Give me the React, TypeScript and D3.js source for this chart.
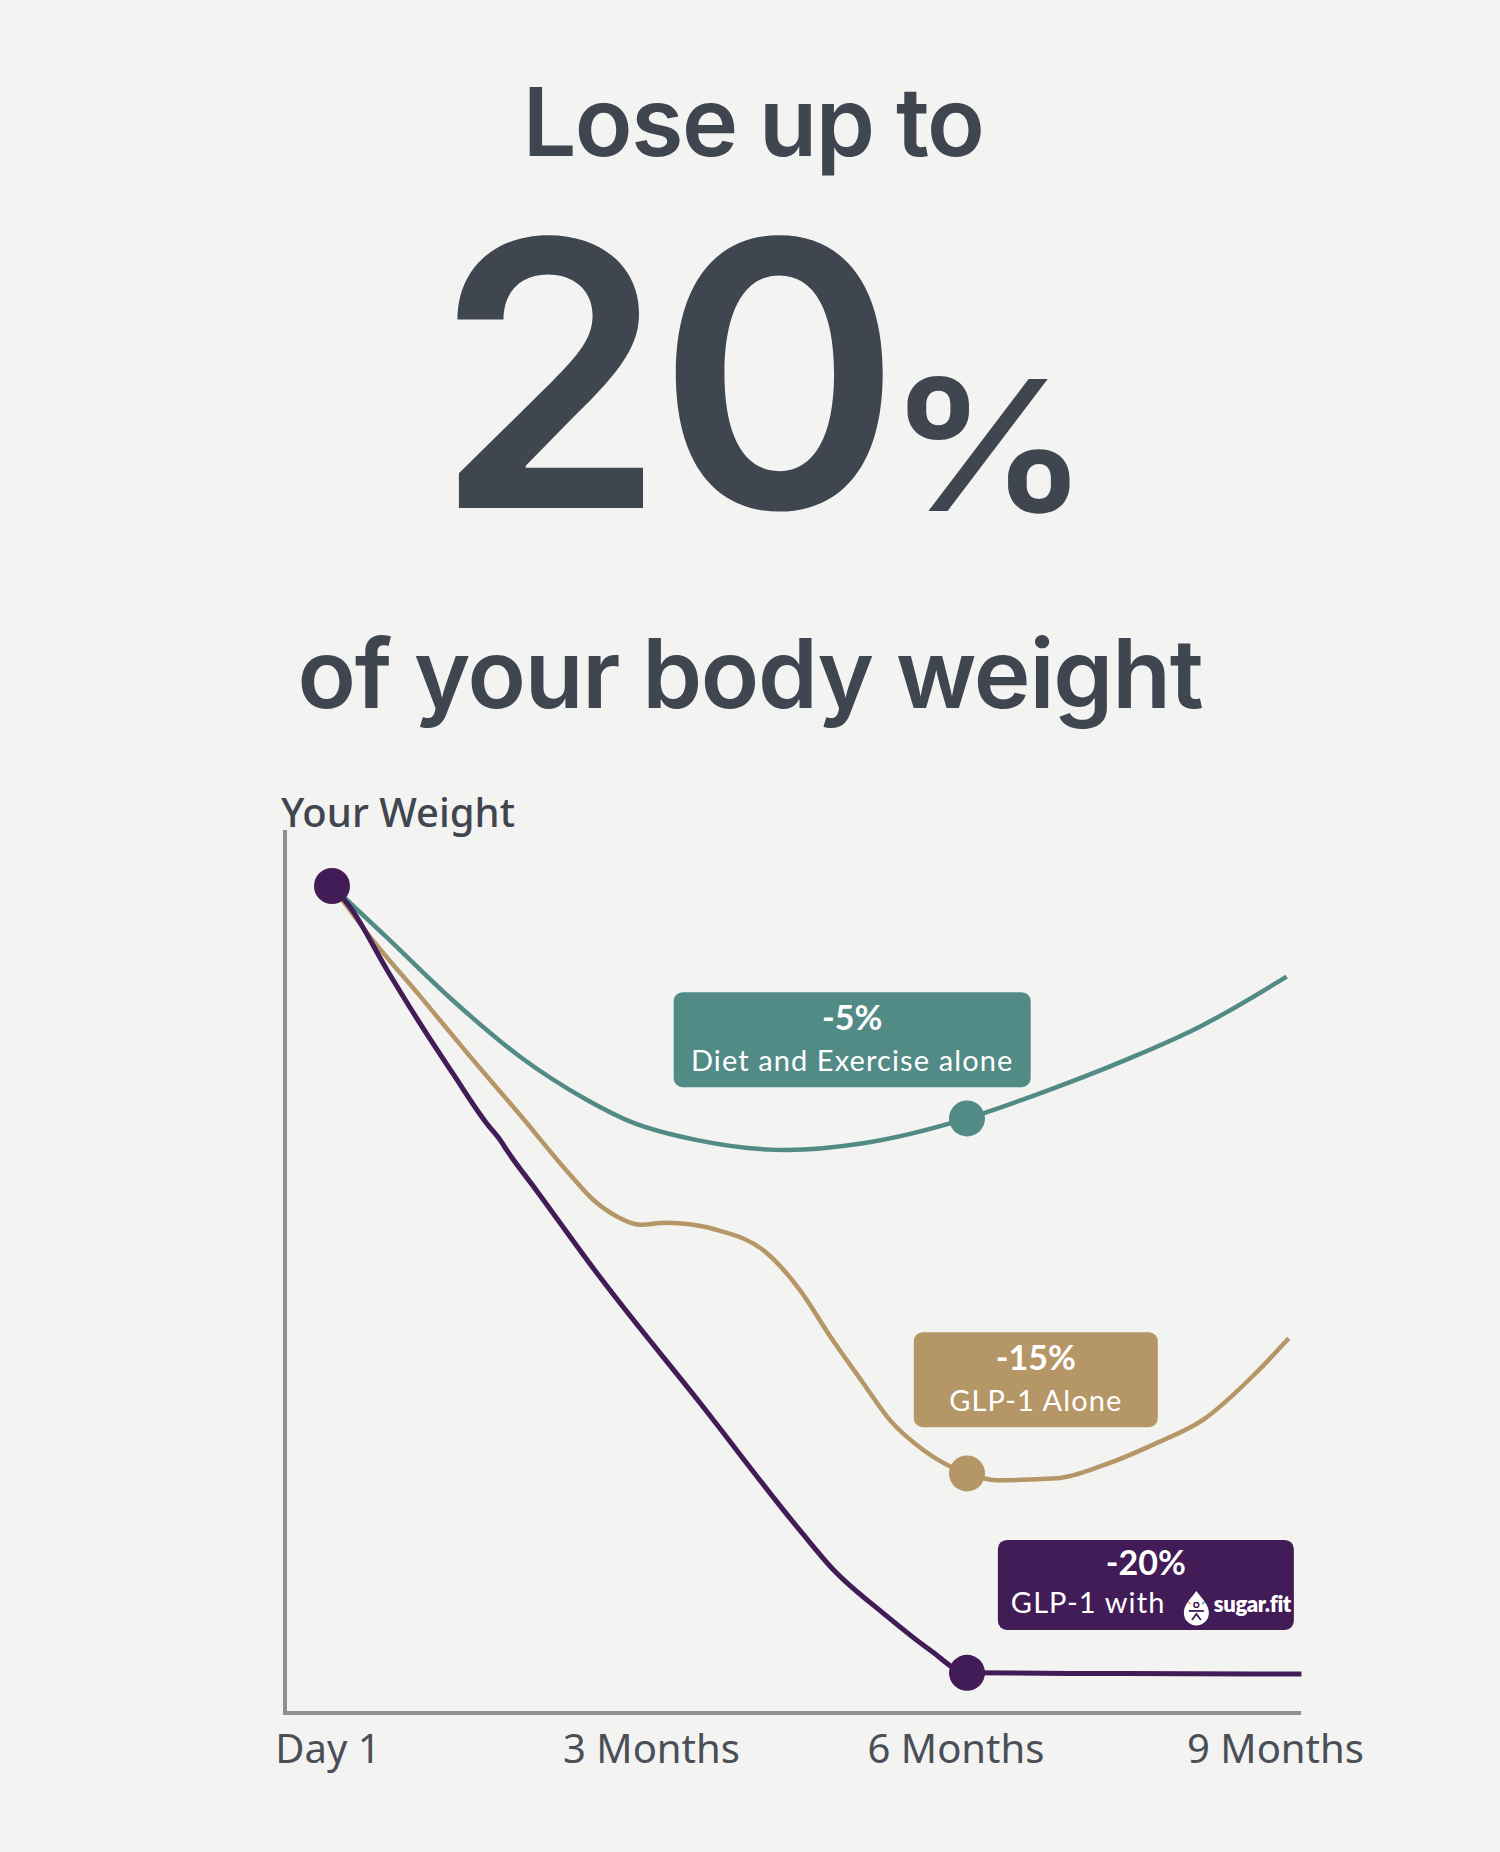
import React from 'react';
import * as d3 from 'd3';

const width = 1500;
const height = 1852;

// months since day 1 / % weight change
const dietMonths = [0, 0.52, 1.14, 1.78, 2.41, 2.82, 3.45, 4.3, 5.02, 6, 6.6, 7.54, 8.2, 9.02];
const dietPct = [0, -1.31, -2.9, -4.34, -5.43, -5.98, -6.45, -6.7, -6.53, -5.9, -5.35, -4.37, -3.57, -2.3];

const glpMonths = [0, 0.36, 0.83, 1.3, 1.78, 2.25, 2.47, 2.7, 2.91, 3.16, 3.64, 4.11, 4.42, 4.71, 5.02, 5.27, 5.59, 6, 6.28, 6.85, 7.29, 7.79, 8.23, 8.73, 9.04];
const glpPct = [0, -1.29, -2.79, -4.31, -5.82, -7.33, -7.97, -8.4, -8.6, -8.55, -8.73, -9.32, -10.25, -11.44, -12.62, -13.55, -14.32, -14.91, -15.08, -15.03, -14.7, -14.14, -13.55, -12.36, -11.48];

const sugarMonths = [0, 0.17, 0.52, 0.83, 1.14, 1.46, 1.59, 1.65, 1.93, 2.53, 3.48, 4.42, 4.74, 5.21, 5.65, 6, 7.5, 9.16];
const sugarPct = [0, -0.53, -2.13, -3.48, -4.75, -6.02, -6.45, -6.7, -7.72, -9.92, -13.13, -16.35, -17.36, -18.46, -19.39, -19.97, -19.99, -20];

const tickMonths = [0, 3, 6, 9];
const tickLabels = ['Day 1', '3 Months', '6 Months', '9 Months'];

const seriesNames = ['Diet and Exercise alone', 'GLP-1 Alone', 'GLP-1 with'];
const seriesBadges = ['-5%', '-15%', '-20%'];
const seriesColors = ['#528b86', '#b59767', '#421c57'];
const labelMonths = [4.915, 6.65, 7.69];
const labelPct = [-3.9, -12.53, -17.74];
const labelWidths = [357, 244, 296];
const labelHeights = [95, 95, 90];

const textColor = '#3f4650';
const axisColor = '#8f8f8f';

const x = d3.scaleLinear().domain([0, 9]).range([332, 1284.5]);
const y = d3.scaleLinear().domain([0, -20]).range([886, 1674]);

const line = d3
  .line<[number, number]>()
  .x(d => x(d[0]))
  .y(d => y(d[1]))
  .curve(d3.curveMonotoneX);

const series = [
  { months: dietMonths, pct: dietPct },
  { months: glpMonths, pct: glpPct },
  { months: sugarMonths, pct: sugarPct },
];

const SugarFitLogo: React.FC<{ cx: number; baseline: number }> = ({ cx, baseline }) => {
  // droplet icon followed by the wordmark
  const dx = cx;
  const dy = baseline - 22;
  return (
    <g>
      <path
        d={`M${dx + 12.5},${dy} C${dx + 18},${dy + 8} ${dx + 25},${dy + 13} ${dx + 25},${dy + 22}
           A12.5,12.5 0 0 1 ${dx},${dy + 22} C${dx},${dy + 13} ${dx + 7},${dy + 8} ${dx + 12.5},${dy} Z`}
        fill="#ffffff"
      />
      <circle cx={dx + 12.5} cy={dy + 14} r={2.4} fill="none" stroke="#421c57" strokeWidth={1.5} />
      <line x1={dx + 5} x2={dx + 20} y1={dy + 20} y2={dy + 20} stroke="#421c57" strokeWidth={1.8} />
      <path
        d={`M${dx + 8},${dy + 29} L${dx + 12.5},${dy + 23} L${dx + 17},${dy + 29}`}
        fill="none"
        stroke="#421c57"
        strokeWidth={1.8}
      />
      <line x1={dx + 4} x2={dx + 7} y1={dy + 11} y2={dy + 13} stroke="#e9a23b" strokeWidth={1.5} />
      <line x1={dx + 21} x2={dx + 18} y1={dy + 11} y2={dy + 13} stroke="#3fa7d6" strokeWidth={1.5} />
      <text
        x={dx + 30}
        y={baseline - 1}
        fill="#ffffff"
        fontFamily="Lato, 'Noto Sans', sans-serif"
        fontWeight={800}
        fontSize={22}
        letterSpacing={-0.4}
      >
        sugar.fit
      </text>
    </g>
  );
};

const App: React.FC = () => {
  const titleFont = "Inter, 'Noto Sans', sans-serif";
  const axisFont = "'Noto Sans', 'Open Sans', sans-serif";
  const labelFont = "Lato, 'Noto Sans', sans-serif";
  const tickNudge = [-4, 2, -11, -9];

  return (
    <svg
      width={width}
      height={height}
      style={{ position: 'absolute', left: 0, top: 0, display: 'block' }}
    >
      <rect width={width} height={height} fill="#f3f3f1" />

      <text x={753} y={156} textAnchor="middle" fill={textColor} fontFamily={titleFont} fontWeight={600} fontSize={95} letterSpacing={-1.5}>
        Lose up to
      </text>
      <text x={664} y={508} textAnchor="middle" fill={textColor} fontFamily={titleFont} fontWeight={600} fontSize={370} letterSpacing={-8}>
        20
      </text>
      <text transform="translate(888,511) scale(1.1,1)" fill={textColor} fontFamily={titleFont} fontWeight={600} fontSize={182}>
        %
      </text>
      <text x={750} y={708} textAnchor="middle" fill={textColor} fontFamily={titleFont} fontWeight={600} fontSize={96} letterSpacing={-1.2}>
        of your body weight
      </text>

      <text x={281} y={827} fill={textColor} fontFamily={axisFont} fontWeight={500} fontSize={40}>
        Your Weight
      </text>

      {/* axes */}
      <line x1={285} x2={285} y1={830} y2={1713} stroke={axisColor} strokeWidth={4} />
      <line x1={283} x2={1301} y1={1713} y2={1713} stroke={axisColor} strokeWidth={4} />

      {tickMonths.map((m, i) => (
        <text
          key={tickLabels[i]}
          x={x(m) + tickNudge[i]}
          y={1763}
          textAnchor="middle"
          fill="#4a4f57"
          fontFamily={axisFont}
          fontSize={40}
        >
          {tickLabels[i]}
        </text>
      ))}

      {/* lines */}
      {series.map((s, i) => (
        <path
          key={seriesNames[i]}
          d={line(s.months.map((m, j) => [m, s.pct[j]] as [number, number])) || ''}
          fill="none"
          stroke={seriesColors[i]}
          strokeWidth={i === 2 ? 5 : 4.5}
          strokeLinecap="butt"
          strokeLinejoin="round"
        />
      ))}

      {/* 6-month markers */}
      {series.map((s, i) => {
        const j = s.months.indexOf(6);
        return <circle key={'dot' + i} cx={x(6)} cy={y(s.pct[j])} r={18} fill={seriesColors[i]} />;
      })}
      <circle cx={x(0)} cy={y(0)} r={18} fill={seriesColors[2]} />

      {/* labels */}
      {seriesNames.map((name, i) => {
        const cx = x(labelMonths[i]);
        const cy = y(labelPct[i]);
        const w = labelWidths[i];
        const h = labelHeights[i];
        return (
          <g key={'label' + i}>
            <rect x={cx - w / 2} y={cy - h / 2} width={w} height={h} rx={9} fill={seriesColors[i]} />
            <text x={cx} y={cy - 10} textAnchor="middle" fill="#ffffff" fontFamily={labelFont} fontWeight={700} fontSize={34}>
              {seriesBadges[i]}
            </text>
            {i < 2 ? (
              <text x={cx} y={cy + 31} textAnchor="middle" fill="#ffffff" fontFamily={labelFont} fontSize={29} letterSpacing={1.1}>
                {name}
              </text>
            ) : (
              <g>
                <text x={cx - 135} y={cy + 28} fill="#ffffff" fontFamily={labelFont} fontSize={29} letterSpacing={1.1}>
                  {name}
                </text>
                <SugarFitLogo cx={cx + 38} baseline={cy + 28} />
              </g>
            )}
          </g>
        );
      })}
    </svg>
  );
};

export default App;
